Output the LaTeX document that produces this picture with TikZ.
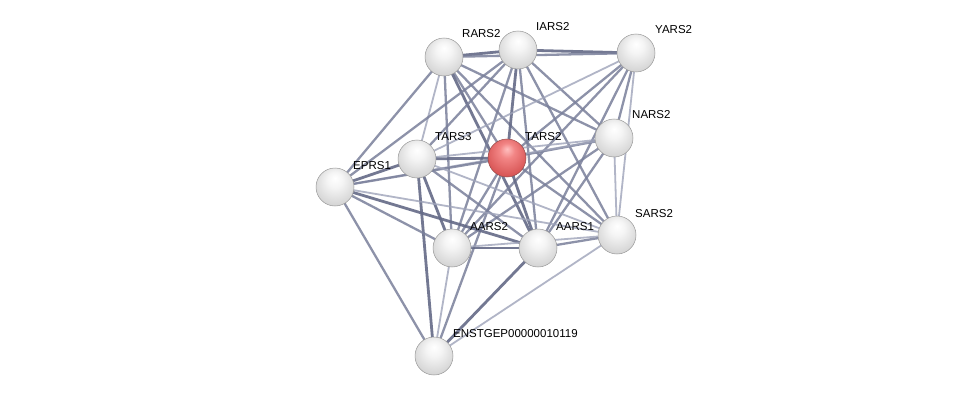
\documentclass[tikz,border=0pt]{standalone}
\usepackage{fontspec}
\setmainfont{Liberation Sans}
\pgfdeclareradialshading{wball}{\pgfpoint{0bp}{12bp}}{color(0bp)=(white); color(10bp)=(white!96!black); color(28bp)=(white!84!black); color(42bp)=(white!70!black); color(50bp)=(white!55!black)}
\pgfdeclareradialshading{rball}{\pgfpoint{0bp}{12bp}}{color(0bp)=(red!25!white); color(10bp)=(red!45!white!95!black); color(28bp)=(red!60!white!85!black); color(42bp)=(red!65!white!70!black); color(50bp)=(red!70!white!50!black)}
\begin{document}
\begin{tikzpicture}[x=1pt,y=-1pt,
  ball/.style={circle,minimum size=38pt,inner sep=0pt,shading=wball,draw=gray!80,line width=0.5pt},
  redball/.style={ball,shading=rball,draw=red!40!black!70},
  lbl/.style={anchor=base west,font=\fontsize{11.5}{12}\selectfont,inner sep=0pt},
  es/.style={line width=2.8pt,draw={rgb,255:red,100;green,106;blue,135},opacity=0.9},
  em/.style={line width=2.3pt,draw={rgb,255:red,122;green,128;blue,155},opacity=0.85},
  ew/.style={line width=1.8pt,draw={rgb,255:red,158;green,163;blue,185},opacity=0.8}]
\useasboundingbox (0,0) rectangle (976,401);
\fill[white] (0,0) rectangle (976,401);
\coordinate (R) at (444,57);
\coordinate (I) at (518,50);
\coordinate (Y) at (636,53);
\coordinate (N) at (614,138);
\coordinate (T2) at (507,158);
\coordinate (T3) at (417,159);
\coordinate (E) at (335,187);
\coordinate (A2) at (452,248);
\coordinate (A1) at (538,248);
\coordinate (S) at (617,235);
\coordinate (X) at (434,356);
% edges
\draw[es] (R) -- (I);
\draw[es] (I) -- (Y);
\draw[em] (R) -- (Y);
\draw[em] (R) -- (E);
\draw[ew] (R) -- (T3);
\draw[em] (R) -- (T2);
\draw[em] (R) -- (A2);
\draw[es] (R) -- (A1);
\draw[em] (R) -- (S);
\draw[em] (R) -- (N);
\draw[em] (I) -- (E);
\draw[em] (I) -- (T3);
\draw[es] (I) -- (T2);
\draw[em] (I) -- (A2);
\draw[em] (I) -- (A1);
\draw[em] (I) -- (N);
\draw[em] (I) -- (S);
\draw[ew] (Y) -- (T3);
\draw[em] (Y) -- (N);
\draw[ew] (Y) -- (S);
\draw[em] (Y) -- (A2);
\draw[em] (Y) -- (A1);
\draw[em] (Y) -- (T2);
\draw[ew] (N) -- (T3);
\draw[em] (N) -- (T2);
\draw[em] (N) -- (A2);
\draw[em] (N) -- (A1);
\draw[ew] (N) -- (S);
\draw[ew] (N) -- (E);
\draw[es] (T2) -- (T3);
\draw[em] (T2) -- (E);
\draw[em] (T2) -- (A2);
\draw[es] (T2) -- (A1);
\draw[em] (T2) -- (S);
\draw[em] (T2) -- (X);
\draw[es] (T3) -- (E);
\draw[es] (T3) -- (A2);
\draw[em] (T3) -- (A1);
\draw[es] (T3) -- (X);
\draw[ew] (T3) -- (S);
\draw[em] (E) -- (A2);
\draw[es] (E) -- (A1);
\draw[em] (E) -- (X);
\draw[ew] (E) -- (S);
\draw[es] (A2) -- (A1);
\draw[ew] (A2) -- (X);
\draw[ew] (A2) -- (S);
\draw[em] (A1) -- (S);
\draw[es] (A1) -- (X);
\draw[ew] (S) -- (X);
% nodes
\node[ball] (nR) at (R) {};
\node[ball] (nI) at (I) {};
\node[ball] (nY) at (Y) {};
\node[ball] (nN) at (N) {};
\node[redball] (nT2) at (T2) {};
\node[ball] (nT3) at (T3) {};
\node[ball] (nE) at (E) {};
\node[ball] (nA2) at (A2) {};
\node[ball] (nA1) at (A1) {};
\node[ball] (nS) at (S) {};
\node[ball] (nX) at (X) {};
% labels
\node[lbl] (lR) at (462,38) {RARS2};
\node[lbl] (lI) at (536,31) {IARS2};
\node[lbl] (lY) at (655,34) {YARS2};
\node[lbl] (lN) at (632,118) {NARS2};
\node[lbl] (lT2) at (525,140) {TARS2};
\node[lbl] (lT3) at (435,140) {TARS3};
\node[lbl] (lE) at (353,169) {EPRS1};
\node[lbl] (lA2) at (470,230) {AARS2};
\node[lbl] (lA1) at (556,230) {AARS1};
\node[lbl] (lS) at (635,217) {SARS2};
\node[lbl] (lX) at (453,337) {ENSTGEP00000010119};
\end{tikzpicture}
\end{document}
